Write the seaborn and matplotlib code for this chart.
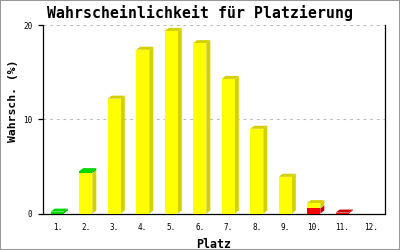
import matplotlib
matplotlib.use("Agg")
import matplotlib.pyplot as plt
import seaborn as sns
import numpy as np
import pandas as pd
from matplotlib.patches import Polygon, Rectangle

# ---- data ----
places = ["1.", "2.", "3.", "4.", "5.", "6.", "7.", "8.", "9.", "10.", "11.", "12."]
red = [0, 0, 0, 0, 0, 0, 0, 0, 0, 0.55, 0.1, 0]
yellow = [0, 4.3, 12.2, 17.4, 19.4, 18.1, 14.3, 9.0, 3.9, 0.55, 0, 0]
green = [0.2, 0.2, 0, 0, 0, 0, 0, 0, 0, 0, 0, 0]
yticks = [0, 10, 20]

title = "Wahrscheinlichkeit für Platzierung"
xlabel = "Platz"
ylabel = "Wahrsch. (%)"

series = [("red", red), ("yellow", yellow), ("green", green)]
front_col = {"red": "#ff0000", "yellow": "#ffff00", "green": "#00d800"}
dark_col = {"red": "#c80000", "yellow": "#d4d000", "green": "#00b000"}
top_col = {"red": "#c80000", "yellow": "#d4d000", "green": "#00d800"}

sns.set_theme(style="white")
plt.rcParams["font.family"] = ["DejaVu Sans Mono", "DejaVu Sans"]

fig = plt.figure(figsize=(4, 2.5), dpi=100)
ax = fig.add_axes([0.1075, 0.146, 0.855, 0.753])

bottoms = np.zeros(len(places))
width = 0.46
dx, dy = 0.14, 0.32
stack_info = []
for name, vals in series:
    vals = np.array(vals, dtype=float)
    d = pd.DataFrame({"place": places, "val": vals})
    n_before = len(ax.patches)
    sns.barplot(data=d, x="place", y="val", color=front_col[name], saturation=1,
                width=width, bottom=bottoms.copy(), ax=ax, linewidth=0, zorder=3)
    new = ax.patches[n_before:]
    for p, b, v in zip(new, bottoms, vals):
        stack_info.append((name, p, b, v))
    bottoms = bottoms + vals

totals = bottoms
# 3D side and top faces
for name, p, b, v in stack_info:
    if v <= 0:
        continue
    xl = p.get_x()
    xr = xl + p.get_width()
    t = b + v
    side = Polygon([(xr, b), (xr + dx, b + dy), (xr + dx, t + dy), (xr, t)],
                   closed=True, facecolor=dark_col[name], edgecolor="none", zorder=2)
    ax.add_patch(side)
    i = int(round(xl + p.get_width() / 2))
    if abs(t - totals[i]) < 1e-9:
        top = Polygon([(xl, t), (xl + dx, t + dy), (xr + dx, t + dy), (xr, t)],
                      closed=True, facecolor=top_col[name], edgecolor="none", zorder=2)
        ax.add_patch(top)

ax.set_xlim(-0.5, len(places) - 0.5)
ax.set_ylim(0, 20)
ax.set_yticks(yticks)
ax.set_yticklabels([str(v) for v in yticks])
ax.set_xticks(range(len(places)))
ax.set_xticklabels(places)

for s in ["left", "bottom", "right"]:
    ax.spines[s].set_visible(True)
    ax.spines[s].set_color("black")
    ax.spines[s].set_linewidth(0.9)
ax.spines["top"].set_visible(False)

ax.yaxis.grid(True, linestyle=(0, (2.5, 3.5)), color="#bbbbbb", linewidth=0.8)
ax.xaxis.grid(False)
ax.set_axisbelow(True)

ax.tick_params(axis="y", which="both", left=True, right=False, length=3.6, width=0.9,
               color="black", labelsize=5.5, pad=4, labelcolor="black")
ax.tick_params(axis="x", which="both", bottom=False, length=0, labelsize=5.5, pad=6.5,
               labelcolor="black")

ax.set_xlabel(xlabel, fontsize=8.4, fontweight="bold", color="black", labelpad=5)
ax.set_ylabel(ylabel, fontsize=8.2, fontweight="bold", color="black")
ax.yaxis.set_label_coords(-0.074, 0.6)
fig.text(0.5, 0.948, title, ha="center", va="center", fontsize=10.7,
         fontweight="bold", color="black")

fig.patches.append(Rectangle((0, 0), 1, 1, transform=fig.transFigure, fill=False,
                             edgecolor="#999999", linewidth=1.5))

fig.savefig("out.png", dpi=100, facecolor="white")
